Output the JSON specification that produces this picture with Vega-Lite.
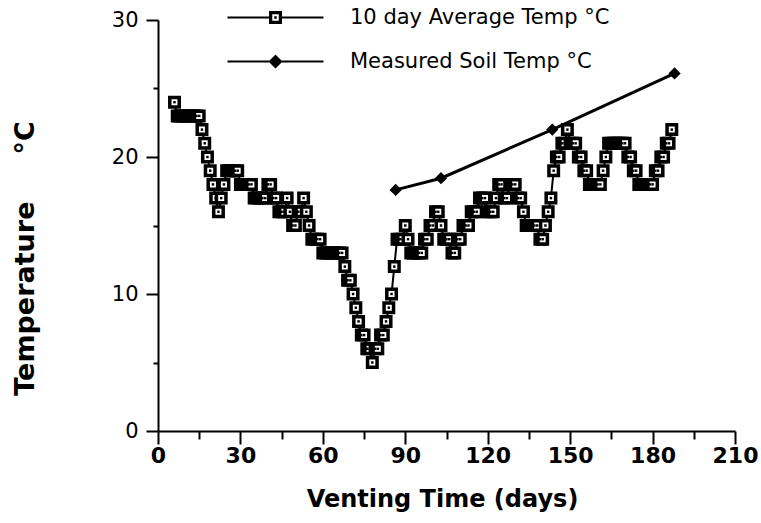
{
  "$schema": "https://vega.github.io/schema/vega-lite/v6.json",
  "width": 577,
  "height": 411,
  "autosize": {"type": "none"},
  "padding": {"left": 158, "top": 20, "right": 26, "bottom": 92},
  "background": "white",
  "config": {"view": {"stroke": null}, "font": "DejaVu Sans"},
  "resolve": {"axis": {"x": "independent", "y": "independent"}},
  "datasets": {
    "avg": [
      {"day":6,"temp":24},{"day":7,"temp":23},{"day":8,"temp":23},{"day":9,"temp":23},{"day":10,"temp":23},{"day":11,"temp":23},{"day":12,"temp":23},{"day":13,"temp":23},{"day":14,"temp":23},{"day":15,"temp":23},
      {"day":16,"temp":22},{"day":17,"temp":21},{"day":18,"temp":20},{"day":19,"temp":19},{"day":20,"temp":18},{"day":21,"temp":17},{"day":22,"temp":16},{"day":23,"temp":17},{"day":24,"temp":18},
      {"day":25,"temp":19},{"day":26,"temp":19},{"day":27,"temp":19},{"day":28,"temp":19},{"day":29,"temp":19},
      {"day":30,"temp":18},{"day":31,"temp":18},{"day":32,"temp":18},{"day":33,"temp":18},{"day":34,"temp":18},
      {"day":35,"temp":17},{"day":36,"temp":17},{"day":37,"temp":17},{"day":38,"temp":17},{"day":39,"temp":17},
      {"day":40,"temp":18},{"day":41,"temp":18},{"day":42,"temp":17},{"day":43,"temp":17},{"day":44,"temp":16},{"day":45,"temp":16},{"day":46,"temp":16},{"day":47,"temp":17},{"day":48,"temp":16},{"day":49,"temp":15},{"day":50,"temp":15},{"day":51,"temp":16},{"day":52,"temp":16},{"day":53,"temp":17},{"day":54,"temp":16},{"day":55,"temp":15},
      {"day":56,"temp":14},{"day":57,"temp":14},{"day":58,"temp":14},{"day":59,"temp":14},
      {"day":60,"temp":13},{"day":61,"temp":13},{"day":62,"temp":13},{"day":63,"temp":13},{"day":64,"temp":13},{"day":65,"temp":13},{"day":66,"temp":13},{"day":67,"temp":13},
      {"day":68,"temp":12},{"day":69,"temp":11},{"day":70,"temp":11},{"day":71,"temp":10},{"day":72,"temp":9},{"day":73,"temp":8},{"day":74,"temp":7},{"day":75,"temp":7},{"day":76,"temp":6},{"day":77,"temp":6},{"day":78,"temp":5},{"day":79,"temp":6},{"day":80,"temp":6},{"day":81,"temp":7},{"day":82,"temp":7},{"day":83,"temp":8},{"day":84,"temp":9},{"day":85,"temp":10},{"day":86,"temp":12},
      {"day":87,"temp":14},{"day":88,"temp":14},{"day":89,"temp":14},{"day":90,"temp":15},{"day":91,"temp":14},{"day":92,"temp":13},{"day":93,"temp":13},{"day":94,"temp":13},{"day":95,"temp":13},{"day":96,"temp":13},{"day":97,"temp":14},{"day":98,"temp":14},{"day":99,"temp":15},{"day":100,"temp":15},
      {"day":101,"temp":16},{"day":102,"temp":16},{"day":103,"temp":15},{"day":104,"temp":14},{"day":105,"temp":14},{"day":106,"temp":14},{"day":107,"temp":13},{"day":108,"temp":13},{"day":109,"temp":14},{"day":110,"temp":14},
      {"day":111,"temp":15},{"day":112,"temp":15},{"day":113,"temp":15},{"day":114,"temp":16},{"day":115,"temp":16},{"day":116,"temp":16},{"day":117,"temp":17},{"day":118,"temp":17},{"day":119,"temp":17},{"day":120,"temp":16},
      {"day":121,"temp":16},{"day":122,"temp":16},{"day":123,"temp":17},{"day":124,"temp":18},{"day":125,"temp":18},{"day":126,"temp":17},{"day":127,"temp":17},{"day":128,"temp":18},{"day":129,"temp":18},{"day":130,"temp":18},
      {"day":131,"temp":17},{"day":132,"temp":17},{"day":133,"temp":16},{"day":134,"temp":15},{"day":135,"temp":15},{"day":136,"temp":15},{"day":137,"temp":15},{"day":138,"temp":15},{"day":139,"temp":14},{"day":140,"temp":14},
      {"day":141,"temp":15},{"day":142,"temp":16},{"day":143,"temp":17},{"day":144,"temp":19},{"day":145,"temp":20},{"day":146,"temp":20},{"day":147,"temp":21},{"day":148,"temp":21},{"day":149,"temp":22},{"day":150,"temp":21},
      {"day":151,"temp":21},{"day":152,"temp":21},{"day":153,"temp":20},{"day":154,"temp":20},{"day":155,"temp":19},{"day":156,"temp":19},{"day":157,"temp":18},{"day":158,"temp":18},{"day":159,"temp":18},{"day":160,"temp":18},
      {"day":161,"temp":18},{"day":162,"temp":19},{"day":163,"temp":20},{"day":164,"temp":21},{"day":165,"temp":21},{"day":166,"temp":21},{"day":167,"temp":21},{"day":168,"temp":21},{"day":169,"temp":21},{"day":170,"temp":21},
      {"day":171,"temp":20},{"day":172,"temp":20},{"day":173,"temp":19},{"day":174,"temp":19},{"day":175,"temp":18},{"day":176,"temp":18},{"day":177,"temp":18},{"day":178,"temp":18},{"day":179,"temp":18},{"day":180,"temp":18},
      {"day":181,"temp":19},{"day":182,"temp":19},{"day":183,"temp":20},{"day":184,"temp":20},{"day":185,"temp":21},{"day":186,"temp":21},{"day":187,"temp":22}
    ],
    "soil": [
      {"day":86.5,"temp":17.6,"series":"Measured Soil Temp °C"},
      {"day":103,"temp":18.45,"series":"Measured Soil Temp °C"},
      {"day":143.5,"temp":22.0,"series":"Measured Soil Temp °C"},
      {"day":188,"temp":26.1,"series":"Measured Soil Temp °C"}
    ]
  },
  "layer": [
    {
      "data": {"name": "avg"},
      "mark": {"type": "line", "color": "black", "strokeWidth": 2},
      "encoding": {
        "x": {"field": "day", "type": "quantitative", "scale": {"domain": [0, 210], "nice": false, "zero": false},
          "axis": {"orient": "bottom", "values": [0,30,60,90,120,150,180,210], "title": "Venting Time (days)", "grid": false,
            "tickSize": 13, "tickWidth": 2, "tickColor": "black", "domainColor": "black", "domainWidth": 2,
            "labelFont": "DejaVu Sans", "labelFontSize": 22, "labelFontWeight": "bold", "labelColor": "black", "labelPadding": 1,
            "labelFlush": false, "labelOverlap": false,
            "titleFont": "DejaVu Sans", "titleFontSize": 24, "titleFontWeight": "bold", "titleColor": "black",
            "titleBaseline": "middle", "titleX": 284, "titleY": 68}},
        "y": {"field": "temp", "type": "quantitative", "scale": {"domain": [0, 30], "nice": false},
          "axis": {"orient": "left", "values": [0,10,20,30], "title": "Temperature\u00a0\u00a0\u00a0\u00a0\u00a0°C", "grid": false,
            "tickSize": 12, "tickWidth": 2, "tickColor": "black", "domainColor": "black", "domainWidth": 2,
            "labelFont": "DejaVu Sans", "labelFontSize": 21, "labelColor": "black", "labelPadding": 8, "labelFlush": false,
            "titleFont": "DejaVu Sans", "titleFontSize": 27, "titleFontWeight": "bold", "titleColor": "black",
            "titleBaseline": "middle", "titleX": -133, "titleY": 238}}
      }
    },
    {
      "data": {"name": "avg"},
      "mark": {"type": "point", "shape": "square", "size": 90, "filled": true, "fill": "white", "stroke": "black", "strokeWidth": 3.5, "opacity": 1},
      "encoding": {
        "x": {"field": "day", "type": "quantitative", "axis": null},
        "y": {"field": "temp", "type": "quantitative", "axis": null}
      }
    },
    {
      "data": {"name": "avg"},
      "mark": {"type": "point", "shape": "square", "size": 6, "filled": true, "color": "black", "opacity": 1},
      "encoding": {
        "x": {"field": "day", "type": "quantitative", "axis": null},
        "y": {"field": "temp", "type": "quantitative", "axis": null}
      }
    },
    {
      "data": {"name": "soil"},
      "mark": {"type": "line", "color": "black", "strokeWidth": 3},
      "encoding": {
        "x": {"field": "day", "type": "quantitative", "axis": null},
        "y": {"field": "temp", "type": "quantitative", "axis": null}
      }
    },
    {
      "data": {"name": "soil"},
      "mark": {"type": "point", "shape": "diamond", "size": 150, "filled": true, "color": "black", "opacity": 1},
      "encoding": {
        "x": {"field": "day", "type": "quantitative", "axis": null},
        "y": {"field": "temp", "type": "quantitative", "axis": null}
      }
    },
    {
      "data": {"name": "soil"},
      "mark": {"type": "point", "filled": true, "color": "black", "opacity": 0},
      "encoding": {
        "x": {"field": "day", "type": "quantitative",
          "axis": {"orient": "bottom", "values": [15,45,75,105,135,165,195], "labels": false, "domain": false, "grid": false, "title": null,
            "tickSize": 8, "tickWidth": 2, "tickColor": "black"}},
        "y": {"field": "temp", "type": "quantitative",
          "axis": {"orient": "left", "values": [5,15,25], "labels": false, "domain": false, "grid": false, "title": null,
            "tickSize": 5, "tickWidth": 2, "tickColor": "black"}},
        "shape": {"field": "series", "type": "nominal",
          "scale": {"domain": ["10 day Average Temp °C", "Measured Soil Temp °C"],
            "range": ["M-9.6,-0.2H-1.2V0.2H-9.6ZM1.2,-0.2H9.6V0.2H1.2ZM-1.3,-1.3H1.3V1.3H-1.3ZM-0.65,-0.65V0.65H0.65V-0.65ZM-0.25,-0.25H0.25V0.25H-0.25Z",
                      "M-9.6,-0.2H9.6V0.2H-9.6ZM0,-1.4L1.4,0L0,1.4L-1.4,0Z"]},
          "legend": {"orient": "none", "legendX": 107, "legendY": -13, "title": null, "padding": 0,
            "symbolSize": 100, "symbolStrokeWidth": 0, "symbolFillColor": "black", "symbolStrokeColor": "black", "symbolOpacity": 1,
            "labelFont": "DejaVu Sans", "labelFontSize": 21, "labelColor": "black", "labelLimit": 500, "labelOffset": 64,
            "rowPadding": 22,
            "encode": {"symbols": {"update": {"fill": {"value": "black"}, "opacity": {"value": 1}}}}}}
      }
    }
  ]
}
